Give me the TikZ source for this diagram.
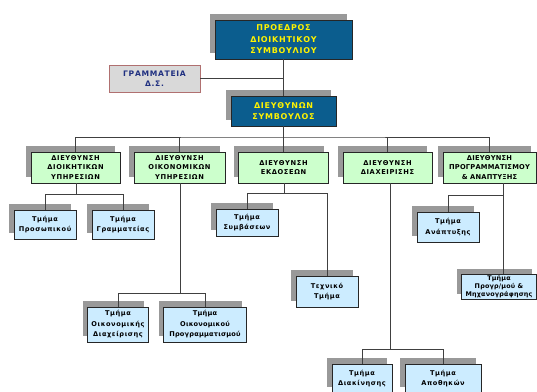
\documentclass[tikz,border=0pt]{standalone}
\usepackage{fontspec}
\setmainfont{DejaVu Sans}
\newfontfamily\bx[LetterSpace=9]{DejaVu Sans}
\newfontfamily\bxn[LetterSpace=3]{DejaVu Sans}
\usetikzlibrary{shadows}
\definecolor{dblue}{HTML}{0B5D8E}
\definecolor{lgreen}{HTML}{CCFFCC}
\definecolor{lblue}{HTML}{CCECFF}
\definecolor{shgray}{HTML}{999999}
\definecolor{gramfill}{HTML}{D9D9D9}
\definecolor{gramborder}{HTML}{B07070}
\definecolor{navy}{HTML}{1F2F80}
\begin{document}
\begin{tikzpicture}[x=1pt,y=-1pt,
  every node/.style={inner sep=0pt, align=center},
  shbox/.style={draw=black!85, line width=0.8pt,
    drop shadow={shadow xshift=-5pt, shadow yshift=6pt, fill=shgray, opacity=1}},
  topbox/.style={shbox, fill=dblue, text=yellow,
    font=\bx\bfseries\fontsize{8}{11.5}\selectfont},
  lvtwo/.style={shbox, fill=lgreen, minimum height=31pt,
    font=\bx\bfseries\fontsize{6.7}{9.5}\selectfont},
  lvthree/.style={shbox, fill=lblue,
    font=\bx\bfseries\fontsize{6.6}{10.5}\selectfont},
  gramstyle/.style={draw=gramborder, line width=0.8pt, fill=gramfill, text=navy,
    font=\bx\bfseries\fontsize{7.6}{10}\selectfont},
  link/.style={draw=black!75, line width=0.8pt}]
\fill[white] (0,0) rectangle (537,391);
\useasboundingbox (0,0) rectangle (537,391);
\clip (0,0) rectangle (537,391);

% top levels
\node[topbox, minimum width=137pt, minimum height=39pt] (top) at (283.5,39.5) {ΠΡΟΕΔΡΟΣ\\ΔΙΟΙΚΗΤΙΚΟΥ\\ΣΥΜΒΟΥΛΙΟΥ};
\node[topbox, minimum width=105pt, minimum height=30pt] (dir) at (283.5,111) {ΔΙΕΥΘΥΝΩΝ\\ΣΥΜΒΟΥΛΟΣ};
\node[gramstyle, minimum width=91pt, minimum height=27pt] (gram) at (154.5,78.5) {ΓΡΑΜΜΑΤΕΙΑ\\Δ.Σ.};

% level two
\node[lvtwo, minimum width=89pt] (b1) at (75.5,167.5) {ΔΙΕΥΘΥΝΣΗ\\ΔΙΟΙΚΗΤΙΚΩΝ\\ΥΠΗΡΕΣΙΩΝ};
\node[lvtwo, minimum width=91pt] (b2) at (179.5,167.5) {ΔΙΕΥΘΥΝΣΗ\\ΟΙΚΟΝΟΜΙΚΩΝ\\ΥΠΗΡΕΣΙΩΝ};
\node[lvtwo, minimum width=90pt] (b3) at (283.5,167.5) {ΔΙΕΥΘΥΝΣΗ\\ΕΚΔΟΣΕΩΝ};
\node[lvtwo, minimum width=89pt] (b4) at (387.5,167.5) {ΔΙΕΥΘΥΝΣΗ\\ΔΙΑΧΕΙΡΙΣΗΣ};
\node[lvtwo, minimum width=93pt,
  font=\bxn\bfseries\fontsize{6.7}{9.5}\selectfont] (b5) at (489.5,167.5) {ΔΙΕΥΘΥΝΣΗ\\ΠΡΟΓΡΑΜΜΑΤΙΣΜΟΥ\\\& ΑΝΑΠΤΥΞΗΣ};

% level three
\node[lvthree, minimum width=62pt, minimum height=29pt] (p1) at (45,224.5) {Τμήμα\\Προσωπικού};
\node[lvthree, minimum width=62pt, minimum height=29pt] (p2) at (123,224.5) {Τμήμα\\Γραμματείας};
\node[lvthree, minimum width=61pt, minimum height=35pt] (o1) at (118,324.5) {Τμήμα\\Οικονομικής\\Διαχείρισης};
\node[lvthree, minimum width=83pt, minimum height=35pt,
  font=\bxn\bfseries\fontsize{6.6}{10.5}\selectfont] (o2) at (205,324.5) {Τμήμα\\Οικονομικού\\Προγραμματισμού};
\node[lvthree, minimum width=62pt, minimum height=27pt] (e1) at (247,222.5) {Τμήμα\\Συμβάσεων};
\node[lvthree, minimum width=62pt, minimum height=31pt] (e2) at (327,291.5) {Τεχνικό\\Τμήμα};
\node[lvthree, minimum width=60pt, minimum height=29pt] (d1) at (362,378.5) {Τμήμα\\Διακίνησης};
\node[lvthree, minimum width=76pt, minimum height=29pt] (d2) at (443,378.5) {Τμήμα\\Αποθηκών};
\node[lvthree, minimum width=62pt, minimum height=30pt] (a1) at (448,227) {Τμήμα\\Ανάπτυξης};
\node[lvthree, minimum width=75pt, minimum height=25pt,
  font=\bxn\bfseries\fontsize{6.4}{8}\selectfont] (a2) at (499,287) {Τμήμα\\Προγρ/μού \&\\Μηχανογράφησης};

% junctions
\coordinate (bar) at (283.5,137);
\coordinate (j1) at (76,194);
\coordinate (j2) at (180,293);
\coordinate (j3) at (284,193);
\coordinate (j4) at (390,349);
\coordinate (j5) at (503,195);

% connectors
\path[link] (top.south) -- (dir.north);
\path[link] (gram.east) -- (gram.east -| top.south);
\path[link] (dir.south) -- (bar);
\path[link] (b1.north) |- (bar) -| (b5.north);
\path[link] (b2.north) -- (b2.north |- bar);
\path[link] (b3.north) -- (b3.north |- bar);
\path[link] (b4.north) -- (b4.north |- bar);

\path[link] (b1.south -| j1) -- (j1);
\path[link] (j1) -| (p1.north);
\path[link] (j1) -| (p2.north);

\path[link] (b2.south -| j2) -- (j2);
\path[link] (j2) -| (o1.north);
\path[link] (j2) -| (o2.north);

\path[link] (b3.south -| j3) -- (j3);
\path[link] (j3) -| (e1.north);
\path[link] (j3) -| (e2.north);

\path[link] (b4.south -| j4) -- (j4);
\path[link] (j4) -| (d1.north);
\path[link] (j4) -| (d2.north);

\path[link] (b5.south -| j5) -- (j5);
\path[link] (j5) -| (a1.north);
\path[link] (j5) -- (a2.north -| j5);
\end{tikzpicture}
\end{document}
